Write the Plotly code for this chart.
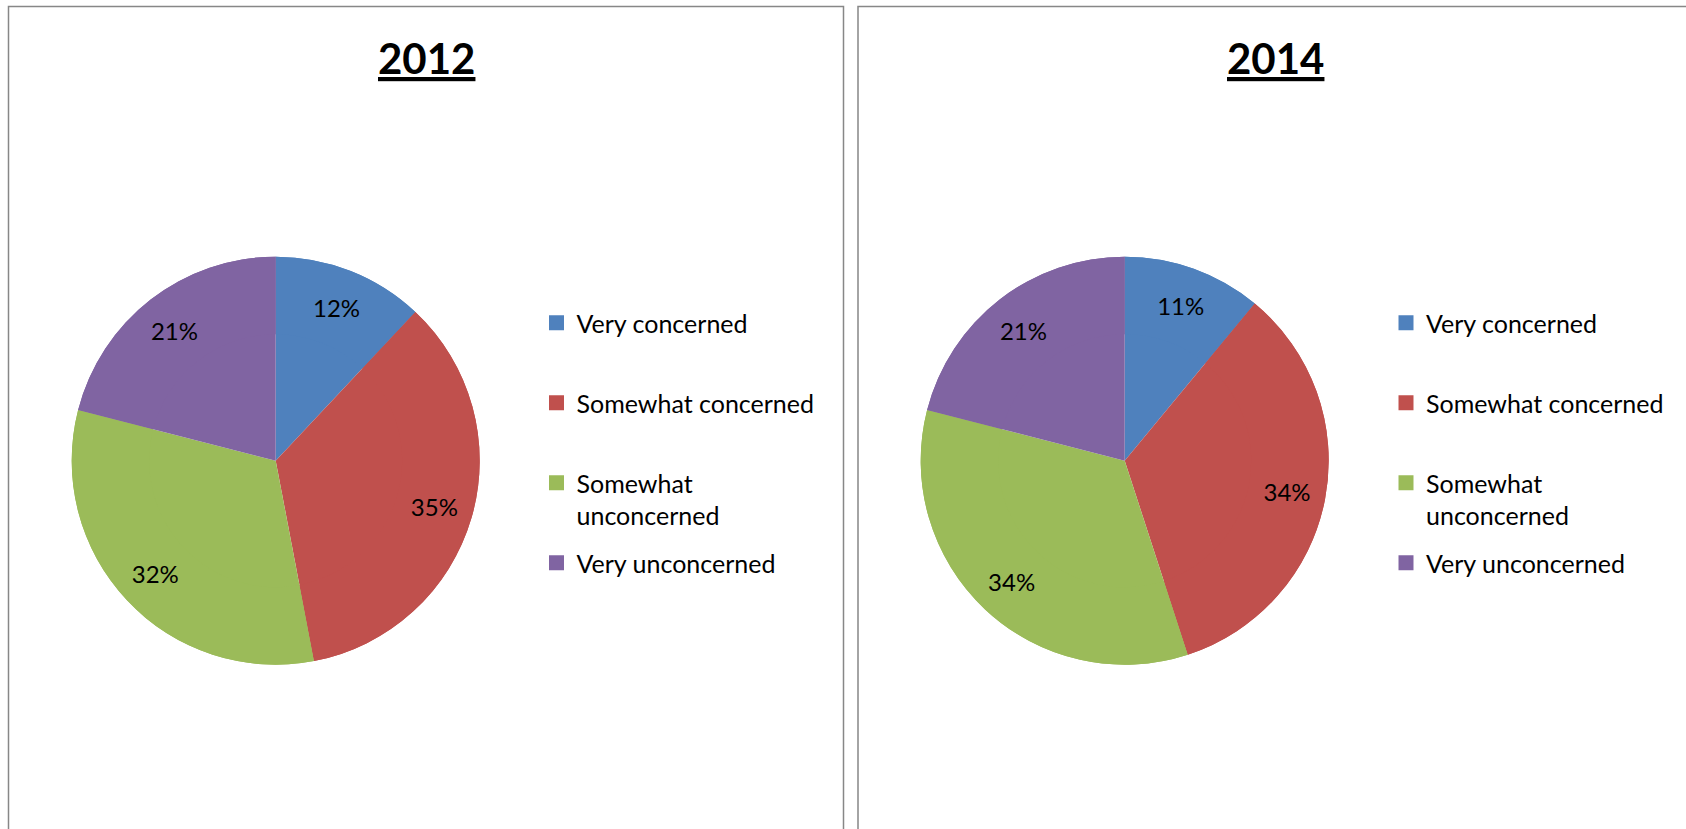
import plotly.graph_objects as go

# Survey shares by year
categories = ["Very concerned", "Somewhat concerned", "Somewhat unconcerned", "Very unconcerned"]
legend_names = ["Very concerned", "Somewhat concerned", "Somewhat<br>unconcerned", "Very unconcerned"]
values_2012 = [12, 35, 32, 21]
values_2014 = [11, 34, 34, 21]
years = ["2012", "2014"]

colors = ["#4F81BD", "#C0504D", "#9BBB59", "#8064A2"]
FONT = "Lato, 'Open Sans', sans-serif"
W, H = 1686, 829


def px_x(v):
    return v / W


def px_y(v):
    return 1 - v / H


fig = go.Figure()

pie_boxes = [(71.7, 479.7), (920.7, 1328.7)]
for year, vals, (x0, x1) in zip(years, [values_2012, values_2014], pie_boxes):
    dom = dict(x=[px_x(x0), px_x(x1)], y=[px_y(664.7), px_y(256.7)])
    common = dict(
        labels=categories, values=vals, sort=False, direction="clockwise",
        rotation=0, showlegend=False, name=year, domain=dom,
        marker=dict(colors=colors, line=dict(width=0)),
    )
    # solid pie
    fig.add_trace(go.Pie(
        textinfo="none",
        hovertemplate="%{label}: %{value}%<extra>" + year + "</extra>",
        **common,
    ))
    # outer ring on top carries the labels near the rim
    fig.add_trace(go.Pie(
        hole=0.62,
        texttemplate="%{value}%",
        textposition="inside",
        insidetextorientation="horizontal",
        textfont=dict(family=FONT, size=24, color="#000000"),
        hovertemplate="%{label}: %{value}%<extra>" + year + "</extra>",
        **common,
    ))

# Legend entries (one group each so the legend can space them out evenly)
for lg in ["legend", "legend2"]:
    for name, col in zip(legend_names, colors):
        label = name if "<br>" in name else name + "<br> "
        fig.add_trace(go.Scatter(
            x=[None], y=[None], mode="markers",
            marker=dict(symbol="square", size=15, color=col),
            name=label, legend=lg, legendgroup=f"{lg}-{name}",
            hoverinfo="skip",
        ))

legend_style = dict(
    font=dict(family=FONT, size=25, color="#000000"),
    tracegroupgap=12,
    traceorder="grouped",
    valign="top",
    bgcolor="rgba(0,0,0,0)",
    xanchor="left",
    yanchor="top",
    itemclick=False,
    itemdoubleclick=False,
)

fig.update_layout(
    width=W, height=H,
    margin=dict(l=0, r=0, t=0, b=0),
    paper_bgcolor="white",
    plot_bgcolor="white",
    xaxis=dict(visible=False, domain=[0, 0.01]),
    yaxis=dict(visible=False, domain=[0, 0.01]),
    legend=dict(x=px_x(536.5), y=px_y(300), **legend_style),
    legend2=dict(x=px_x(1386), y=px_y(300), **legend_style),
)

# Chart-area frames
frame = dict(color="#878787", width=1.5)
fig.add_shape(type="rect", xref="paper", yref="paper",
              x0=px_x(8.5), x1=px_x(843.5), y0=px_y(840), y1=px_y(6.5), line=frame)
fig.add_shape(type="rect", xref="paper", yref="paper",
              x0=px_x(858), x1=px_x(1700), y0=px_y(840), y1=px_y(6.5), line=frame)

# Titles
for year, cx in zip(years, [426, 1275]):
    fig.add_annotation(
        x=px_x(cx), y=px_y(58), xref="paper", yref="paper",
        text=f"<b><u>{year}</u></b>", showarrow=False,
        xanchor="center", yanchor="middle",
        font=dict(family=FONT, size=42, color="#000000"),
    )

fig.write_html("out.html")
